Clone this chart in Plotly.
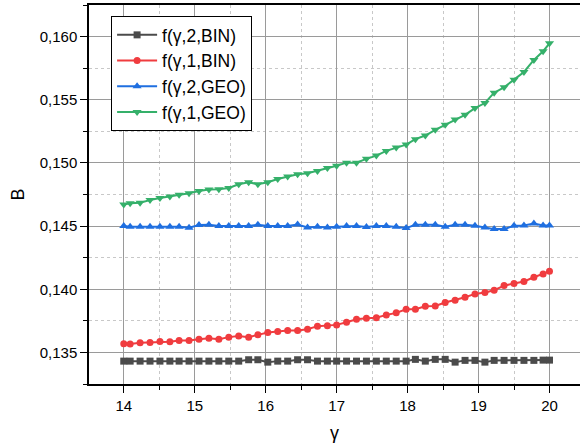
import plotly.graph_objects as go

gamma = [14.00, 14.09, 14.23, 14.37, 14.51, 14.65, 14.78, 14.92, 15.06, 15.20,
         15.34, 15.48, 15.62, 15.76, 15.89, 16.03, 16.17, 16.31, 16.45, 16.59,
         16.73, 16.87, 17.00, 17.14, 17.28, 17.42, 17.56, 17.70, 17.84, 17.98,
         18.11, 18.25, 18.39, 18.53, 18.67, 18.81, 18.95, 19.09, 19.22, 19.36,
         19.50, 19.64, 19.78, 19.91, 20.00]

f_2_bin = [0.13431, 0.13431, 0.13431, 0.13431, 0.13431, 0.13431, 0.13431, 0.13431, 0.13431, 0.13431,
           0.13431, 0.13431, 0.13431, 0.13442, 0.13442, 0.13423, 0.13431, 0.13431, 0.13442, 0.13442,
           0.13431, 0.13431, 0.13431, 0.13431, 0.13431, 0.13431, 0.13431, 0.13431, 0.13431, 0.13431,
           0.13445, 0.13431, 0.13445, 0.13445, 0.13423, 0.13437, 0.13437, 0.13423, 0.13437, 0.13437,
           0.13437, 0.13437, 0.13437, 0.13439, 0.13439]

f_1_bin = [0.13568, 0.13566, 0.13576, 0.13579, 0.13587, 0.13584, 0.13595, 0.13595, 0.13605, 0.13613,
           0.13605, 0.13621, 0.13629, 0.13621, 0.13639, 0.13658, 0.13666, 0.13674, 0.13674, 0.13684,
           0.13708, 0.13711, 0.13718, 0.13739, 0.13763, 0.13771, 0.13774, 0.13797, 0.13813, 0.13842,
           0.13842, 0.13866, 0.13868, 0.13895, 0.13913, 0.13937, 0.13963, 0.13974, 0.13992, 0.14029,
           0.14045, 0.14061, 0.14095, 0.14121, 0.14142]

f_2_geo = [0.14500, 0.14495, 0.14495, 0.14495, 0.14495, 0.14495, 0.14495, 0.14487, 0.14508, 0.14511,
           0.14500, 0.14500, 0.14500, 0.14500, 0.14511, 0.14500, 0.14500, 0.14500, 0.14513, 0.14489,
           0.14495, 0.14489, 0.14495, 0.14500, 0.14500, 0.14492, 0.14500, 0.14500, 0.14495, 0.14484,
           0.14511, 0.14511, 0.14511, 0.14495, 0.14511, 0.14511, 0.14503, 0.14489, 0.14476, 0.14476,
           0.14503, 0.14505, 0.14521, 0.14505, 0.14505]

f_1_geo = [0.14670, 0.14681, 0.14684, 0.14707, 0.14723, 0.14734, 0.14749, 0.14760, 0.14778, 0.14789,
           0.14792, 0.14802, 0.14831, 0.14847, 0.14831, 0.14847, 0.14873, 0.14892, 0.14910, 0.14918,
           0.14937, 0.14960, 0.14977, 0.15002, 0.15002, 0.15032, 0.15058, 0.15095, 0.15122, 0.15145,
           0.15188, 0.15217, 0.15262, 0.15302, 0.15344, 0.15381, 0.15434, 0.15474, 0.15556, 0.15598,
           0.15659, 0.15720, 0.15815, 0.15884, 0.15947]

series = [
    ("f(γ,2,BIN)", f_2_bin, "#4b4b4b", "square", 7),
    ("f(γ,1,BIN)", f_1_bin, "#f03c3f", "circle", 7),
    ("f(γ,2,GEO)", f_2_geo, "#1f6fe0", "triangle-up", 8),
    ("f(γ,1,GEO)", f_1_geo, "#35b06a", "triangle-down", 8),
]

fig = go.Figure()
for name, ys, color, sym, size in series:
    fig.add_trace(go.Scatter(
        x=gamma, y=ys, name=name, mode="lines+markers",
        line=dict(color=color, width=2),
        marker=dict(symbol=sym, size=size, color=color),
    ))

font_family = "Liberation Sans, Arial, sans-serif"

fig.update_layout(
    width=580, height=445,
    margin=dict(l=89, r=0, t=5, b=61),
    paper_bgcolor="white", plot_bgcolor="white",
    separators=",.",
    font=dict(family=font_family, size=15, color="black"),
    showlegend=True,
    legend=dict(
        x=0.045, y=0.971, xanchor="left", yanchor="top",
        bordercolor="black", borderwidth=1, bgcolor="white",
        font=dict(size=17.5, family=font_family),
        tracegroupgap=0, itemwidth=40,
    ),
)

fig.update_xaxes(
    range=[13.51, 20.43],
    tickmode="linear", tick0=14, dtick=1,
    showline=True, linecolor="black", linewidth=1.5, mirror=True,
    ticks="outside", ticklen=7, tickwidth=1, tickcolor="black",
    showgrid=True, gridcolor="#9a9a9a", gridwidth=1,
    zeroline=False,
    minor=dict(dtick=0.5, tick0=14, ticks="outside", ticklen=4, tickcolor="black",
               showgrid=True, gridcolor="#c8c8c8", griddash="dot", gridwidth=1),
    title=dict(text="γ", font=dict(size=18, family=font_family), standoff=14),
    tickfont=dict(size=15, family=font_family),
)

fig.update_yaxes(
    range=[0.1325, 0.1625],
    tickmode="linear", tick0=0.135, dtick=0.005, tickformat=".3f",
    showline=True, linecolor="black", linewidth=1.5, mirror=False,
    ticks="outside", ticklen=7, tickwidth=1, tickcolor="black",
    showgrid=True, gridcolor="#9a9a9a", gridwidth=1,
    zeroline=False,
    minor=dict(dtick=0.0025, tick0=0.135, ticks="outside", ticklen=4, tickcolor="black",
               showgrid=True, gridcolor="#c8c8c8", griddash="dot", gridwidth=1),
    title=dict(text="B", font=dict(size=18, family=font_family), standoff=10),
    tickfont=dict(size=15, family=font_family),
)

fig.write_html("out.html", config={"displayModeBar": False},
               post_script="document.body.style.margin='0';")
